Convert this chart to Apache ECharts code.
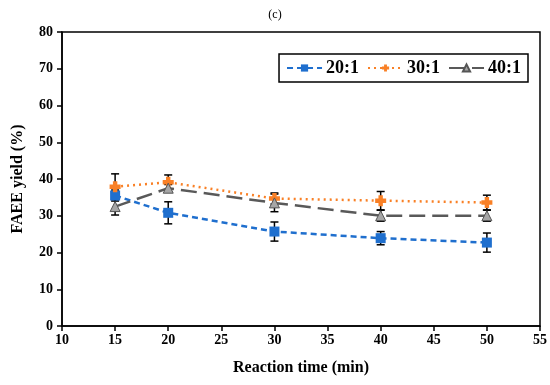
<!DOCTYPE html>
<html><head><meta charset="utf-8">
<script src="https://cdn.jsdelivr.net/npm/echarts@6/dist/echarts.min.js"></script>
<style>html,body{margin:0;padding:0;background:#fff}#c{width:550px;height:385px}</style>
</head><body><div id="c"></div>
<script>
const times = [15, 20, 30, 40, 50];
const s20 = [35.5, 30.8, 25.7, 23.9, 22.7];
const s20err = [1.5, 3.0, 2.6, 1.8, 2.6];
const s30 = [37.9, 39.1, 34.7, 34.1, 33.6];
const s30err = [3.5, 2.0, 1.5, 2.5, 2.0];
const s40 = [32.5, 37.5, 33.5, 30.0, 30.0];
const s40err = [2.3, 1.0, 2.4, 1.5, 1.5];
const names = ['20:1', '30:1', '40:1'];

const font = '"Liberation Serif", "Times New Roman", serif';
function pts(v){ return times.map((t,i)=>[t, v[i]]); }
function errData(v,e){ return times.map((t,i)=>[t, v[i]-e[i], v[i]+e[i]]); }
function errSeries(v,e){
  return {
    type:'custom', silent:true, z:1,
    data: errData(v,e),
    renderItem(params, api){
      const x = api.value(0);
      const lo = api.coord([x, api.value(1)]);
      const hi = api.coord([x, api.value(2)]);
      const w = 4;
      const st = {stroke:'#000', lineWidth:1.5};
      return {type:'group', children:[
        {type:'line', shape:{x1:lo[0],y1:lo[1],x2:hi[0],y2:hi[1]}, style:st},
        {type:'line', shape:{x1:lo[0]-w,y1:lo[1],x2:lo[0]+w,y2:lo[1]}, style:st},
        {type:'line', shape:{x1:hi[0]-w,y1:hi[1],x2:hi[0]+w,y2:hi[1]}, style:st}
      ]};
    }
  };
}
const plus = 'path://M3,0H7V3H10V7H7V10H3V7H0V3H3Z';
const chart = echarts.init(document.getElementById('c'));
chart.setOption({
  animation:false,
  title:{text:'(c)', left:'center', top:4, textStyle:{fontFamily:font, fontSize:12, fontWeight:'normal', color:'#000'}},
  grid:{left:62, right:10, top:32, bottom:59, show:true, borderColor:'#000', borderWidth:1.5},
  legend:{
    data:names, top:54, right:22, orient:'horizontal',
    borderColor:'#000', borderWidth:1.5, padding:[5,7,5,7], itemGap:8, itemWidth:35, itemHeight:9,
    textStyle:{fontFamily:font, fontSize:18, fontWeight:'bold', color:'#000', padding:[0,0,0,-1]}
  },
  xAxis:{
    type:'value', min:10, max:55, interval:5,
    name:'Reaction time (min)', nameLocation:'middle', nameGap:34,
    nameTextStyle:{fontFamily:font, fontSize:16, fontWeight:'bold', color:'#000'},
    axisLine:{lineStyle:{color:'#000', width:1.5}},
    axisTick:{show:true, length:5, lineStyle:{color:'#000', width:1.5}},
    axisLabel:{fontFamily:font, fontSize:14, fontWeight:'bold', color:'#000', margin:7},
    splitLine:{show:false}
  },
  yAxis:{
    type:'value', min:0, max:80, interval:10,
    name:'FAEE yield (%)', nameLocation:'middle', nameGap:36,
    nameTextStyle:{fontFamily:font, fontSize:16, fontWeight:'bold', color:'#000'},
    axisLine:{show:true, lineStyle:{color:'#000', width:1.5}},
    axisTick:{show:true, length:5, lineStyle:{color:'#000', width:1.5}},
    axisLabel:{fontFamily:font, fontSize:14, fontWeight:'bold', color:'#000', margin:9},
    splitLine:{show:false}
  },
  series:[
    errSeries(s20,s20err), errSeries(s30,s30err), errSeries(s40,s40err),
    {name:names[0], type:'line', data:pts(s20), z:3, symbol:'rect', symbolSize:10,
     itemStyle:{color:'#1f6fce'}, lineStyle:{color:'#1f6fce', width:2.5, type:[6,4]}},
    {name:names[1], type:'line', data:pts(s30), z:3, symbol:plus, symbolSize:11,
     itemStyle:{color:'#f98026'}, lineStyle:{color:'#f98026', width:2.5, type:[2,4]}},
    {name:names[2], type:'line', data:pts(s40), z:3, symbol:'triangle', symbolSize:10,
     itemStyle:{color:'#a6a6a6', borderColor:'#555', borderWidth:1},
     lineStyle:{color:'#595959', width:2.5, type:[16,7]}}
  ]
});
</script></body></html>
